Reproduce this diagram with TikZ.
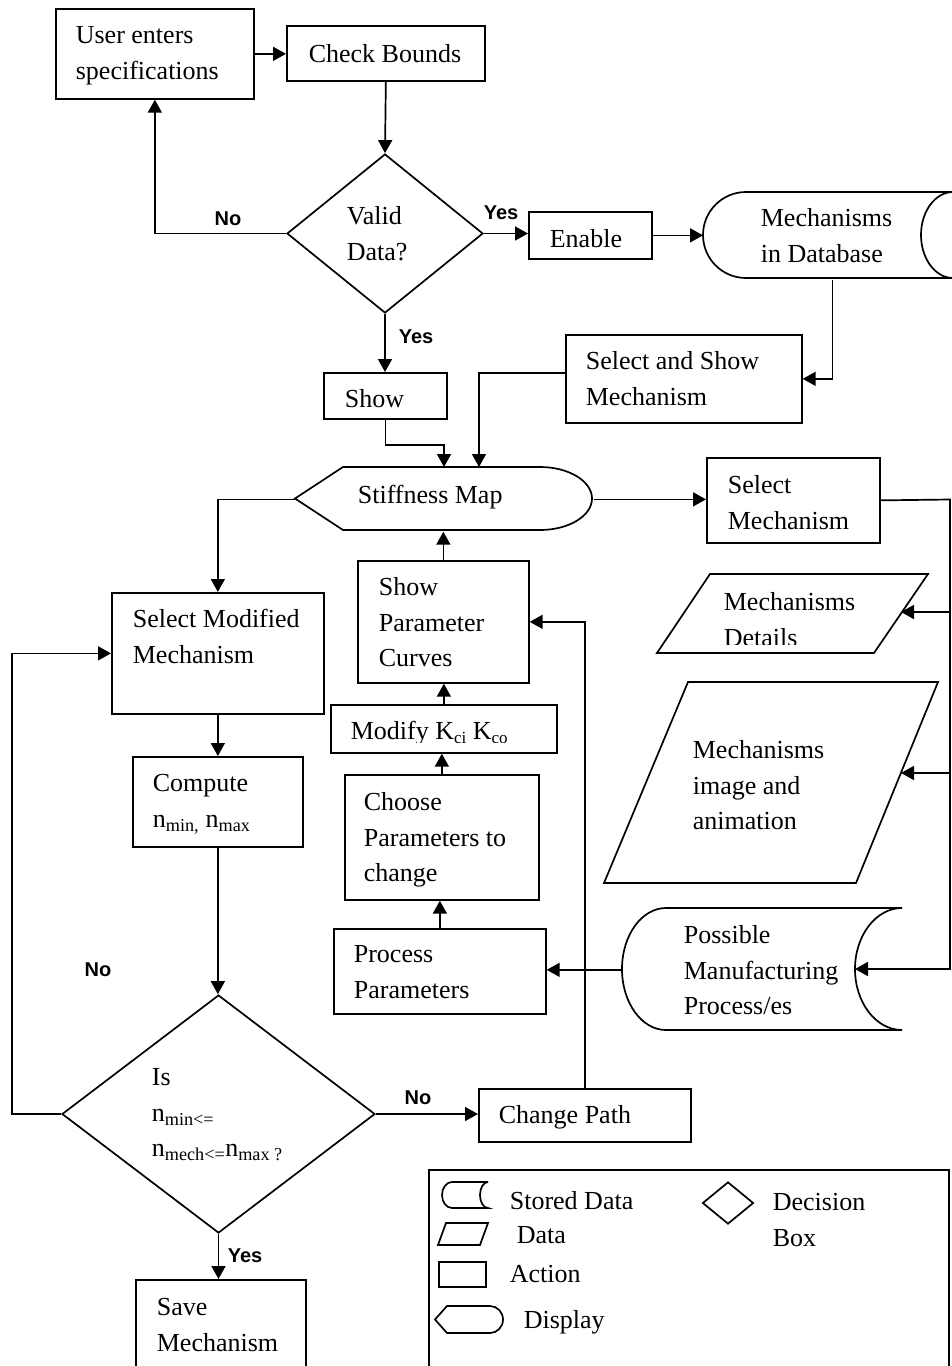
\documentclass[tikz,border=0pt]{standalone}
\usepackage{fontspec}
\setmainfont{Liberation Serif}
\newfontfamily\labfont{Liberation Sans}
\usetikzlibrary{arrows.meta,shapes.geometric}
\newcommand{\lh}{\rule{0pt}{20pt}}
\begin{document}
\begin{tikzpicture}[x=1pt,y=-1pt,
  line width=1.7pt,
  box/.style={draw, rectangle, inner sep=0pt, anchor=north west},
  ghost/.style={rectangle, inner sep=0pt, anchor=north west},
  dia/.style={draw, diamond, inner sep=0pt},
  txt/.style={inner sep=0pt, anchor=north west, align=left, font=\fontsize{26}{35.5}\selectfont},
  lbl/.style={inner sep=0pt, anchor=base, font=\labfont\bfseries\fontsize{20}{24}\selectfont},
  arr/.style={-{Triangle[length=13pt,width=14pt]}},
]
\path[use as bounding box] (0,0) rectangle (952,1366);
\fill[white] (0,0) rectangle (952,1366);
\clip (0,0) rectangle (952,1366);

% ---------- boxes ----------
\node[box, minimum width=198pt, minimum height=90pt] (user) at (55,8) {};
\node[box, minimum width=198pt, minimum height=55pt] (check) at (286,25) {};
\node[dia, minimum width=196pt, minimum height=159pt] (valid) at (385,233.5) {};
\node[box, minimum width=123pt, minimum height=47pt] (enable) at (528,211) {};
\node[ghost, minimum width=257pt, minimum height=86pt] (db) at (703,192) {};
\draw (965,192) -- (746,192) arc[start angle=90,end angle=270,x radius=43pt,y radius=43pt] -- (965,278);
\draw (953,192) arc[start angle=90,end angle=270,x radius=32pt,y radius=43pt];
\node[box, minimum width=236pt, minimum height=88pt] (selshow) at (565,334) {};
\node[box, minimum width=123pt, minimum height=46pt] (show) at (323,372) {};
\node[ghost, minimum width=297pt, minimum height=63pt] (stiff) at (295,467) {};
\draw (295,498.5) -- (343,467) -- (540,467) arc[start angle=90,end angle=-90,x radius=52pt,y radius=31.5pt] -- (343,530) -- cycle;
\node[box, minimum width=173pt, minimum height=85pt] (selmech) at (706,457) {};
\node[box, minimum width=212pt, minimum height=121pt] (selmod) at (111,592) {};
\node[box, minimum width=170pt, minimum height=90pt] (compute) at (132,756) {};
\node[box, minimum width=171pt, minimum height=122pt] (showp) at (357,560) {};
\node[box, minimum width=226pt, minimum height=48pt] (modify) at (330,704) {};
\node[box, minimum width=194pt, minimum height=125pt] (choose) at (344,774) {};
\node[box, minimum width=212pt, minimum height=85pt] (process) at (333,928) {};
\node[ghost, minimum width=280pt, minimum height=122pt] (poss) at (622,908) {};
\draw (902,908) -- (666,908) arc[start angle=90,end angle=270,x radius=44pt,y radius=61pt] -- (902,1030) arc[start angle=270,end angle=90,x radius=47pt,y radius=61pt];
\node[ghost, minimum width=271pt, minimum height=79pt] (det) at (657,574) {};
\draw (710,574) -- (928,574) -- (874,653) -- (657,653) -- cycle;
\node[ghost, minimum width=334pt, minimum height=201pt] (img) at (604,682) {};
\draw (688,682) -- (938,682) -- (856,883) -- (604,883) -- cycle;
\node[dia, minimum width=313pt, minimum height=238pt] (isdec) at (218.5,1114) {};
\node[box, minimum width=212pt, minimum height=53pt] (change) at (478,1088) {};
\node[box, minimum width=170pt, minimum height=130pt] (save) at (135,1279) {};

% ---------- legend ----------
\node[box, minimum width=520pt, minimum height=260pt] (legend) at (428,1169) {};
\draw (488,1182) -- (452,1182) arc[start angle=90,end angle=270,x radius=10pt,y radius=13pt] -- (488,1208) arc[start angle=270,end angle=90,x radius=8pt,y radius=13pt];
\node[dia, minimum width=51pt, minimum height=42pt] (legdia) at (728,1203) {};
\draw (446,1223) -- (488,1223) -- (480,1245) -- (438,1245) -- cycle;
\node[box, minimum width=47pt, minimum height=25pt] (legact) at (438,1261) {};
\draw (435,1319.5) -- (447,1306) -- (490,1306) arc[start angle=90,end angle=-90,x radius=13pt,y radius=13.5pt] -- (447,1333) -- cycle;

% ---------- texts ----------
\node[txt] (tuser) at (75,23) {\lh User enters\\specifications};
\node[txt, anchor=base] (tcheck) at (385,62) {Check Bounds};
\node[txt] (tvalid) at (346,204) {\lh Valid\\Data?};
\node[txt, anchor=base west] (tenable) at (549,247) {Enable};
\node[txt] (tdb) at (760,206) {\lh Mechanisms\\in Database};
\node[txt] (tselshow) at (585,349) {\lh Select and Show\\Mechanism};
\node[txt, anchor=base west] (tshow) at (344,407) {Show};
\node[txt, anchor=base west] (tstiff) at (357,503) {Stiffness Map};
\node[txt] (tselmech) at (727,473) {\lh Select\\Mechanism};
\node[txt] (tselmod) at (132,607) {\lh Select Modified\\Mechanism};
\node[txt] (tshowp) at (378,575) {\lh Show\\Parameter\\Curves};
\begin{scope}
  \clip (330,704) rectangle (556,742);
  \node[txt, anchor=base west] (tmodify) at (350,739) {Modify K\raisebox{-4pt}{\fontsize{17}{17}\selectfont ci} K\raisebox{-4pt}{\fontsize{17}{17}\selectfont co}};
\end{scope}
\begin{scope}
  \clip (657,574) rectangle (930,644);
  \node[txt] (tdet) at (723,590) {\lh Mechanisms\\Details};
\end{scope}
\node[txt] (timg) at (692,738) {\lh Mechanisms\\image and\\animation};
\node[txt] (tcompute) at (152,771) {\lh Compute\\n\textsubscript{min,} n\textsubscript{max}};
\node[txt] (tchoose) at (363,790) {\lh Choose\\Parameters to\\change};
\node[txt] (tprocess) at (353,942) {\lh Process\\Parameters};
\node[txt] (tposs) at (683,923) {\lh Possible\\Manufacturing\\Process/es};
\node[txt] (tisdec) at (151,1065) {\lh Is\\n\textsubscript{min<=}\\n\textsubscript{mech<=}n\textsubscript{max ?}};
\node[txt, anchor=base west] (tchange) at (498,1123) {Change Path};
\node[txt] (tsave) at (156,1295) {\lh Save\\Mechanism};
\node[txt, anchor=base west] (lstored) at (509,1209) {Stored Data};
\node[txt, anchor=base west] (ldata) at (516,1243) {Data};
\node[txt, anchor=base west] (laction) at (509,1282) {Action};
\node[txt, anchor=base west] (ldisplay) at (523,1328) {Display};
\node[txt] (ldecision) at (772,1190) {\lh Decision\\Box};

% ---------- labels ----------
\node[lbl] (lno1) at (228,225) {No};
\node[lbl] (lyes1) at (501,219) {Yes};
\node[lbl] (lyes2) at (416,343) {Yes};
\node[lbl] (lno2) at (98,976) {No};
\node[lbl] (lno3) at (418,1104) {No};
\node[lbl] (lyes3) at (245,1262) {Yes};

% ---------- connectors ----------
\coordinate (sin1) at (444,467);
\coordinate (sin2) at (479,467);
\coordinate (railtop) at (950,499.5);
\coordinate (possin) at (855,969);
\coordinate (detin) at (901,612);
\coordinate (imgin) at (901,773);

\draw[arr] (user.east) -- (user.east -| check.west);
\draw[arr] (check.south) -- (valid.north);
\draw[arr] (valid.west) -| (user.south);
\draw[arr] (valid.east) -- (valid.east -| enable.west);
\draw[arr] (enable.east) -- (enable.east -| db.west);
\draw[arr] (db.south) |- (selshow.east);
\draw[arr] (valid.south) -- (valid.south |- show.north);
\draw[arr] (show.south) -- ++(0,25) -| (sin1);
\draw[arr] ([yshift=6pt]selshow.west) -| (sin2);
\draw[arr] (stiff.east) -- (stiff.east -| selmech.west);
\draw[arr] (stiff.west) -| (selmod.north);
\draw[arr] (selmech.east) -- (railtop) |- (possin);
\draw[arr] (railtop |- detin) -- (detin);
\draw[arr] (railtop |- imgin) -- (imgin);
\draw[arr] (poss.west) -- (poss.west -| process.east);
\draw[arr] (process.north) -- (process.north |- choose.south);
\draw[arr] (choose.north) -- (choose.north |- modify.south);
\draw[arr] (modify.north) -- (modify.north |- showp.south);
\draw[arr] (showp.north) -- (showp.north |- stiff.south);
\draw[arr] (selmod.south) -- (compute.north);
\draw[arr] (compute.south) -- (compute.south |- isdec.north);
\draw[arr] (isdec.west) -- ++(-49,0) |- (selmod.west);
\draw[arr] (isdec.east) -- (isdec.east -| change.west);
\draw[arr] (change.north) |- (showp.east);
\draw[arr] (isdec.south) -- (isdec.south |- save.north);
\end{tikzpicture}
\end{document}
